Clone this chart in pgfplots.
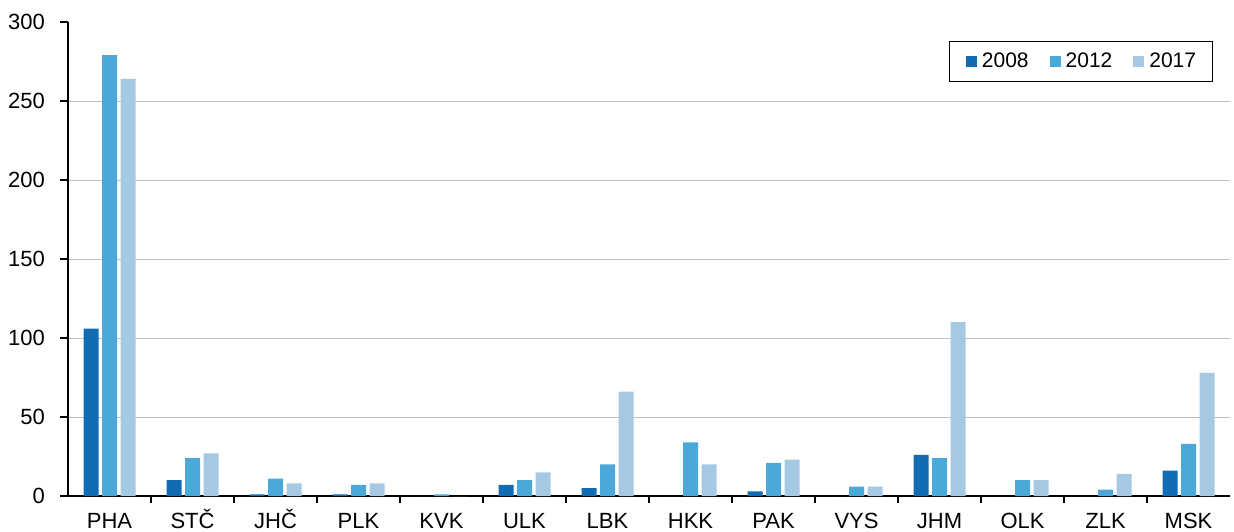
\documentclass[border=0pt]{standalone}
\usepackage{pgfplots}
\pgfplotsset{compat=1.18}
\usepackage{fontspec}
\setmainfont{Liberation Sans}
\definecolor{cA}{RGB}{19,108,178}
\definecolor{cB}{RGB}{77,168,218}
\definecolor{cC}{RGB}{165,201,227}
\pgfplotsset{sqleg/.style={legend image code/.code={\fill[##1] (0pt,-2.75pt) rectangle (5.5pt,2.75pt);}}}
\begin{document}
\begin{tikzpicture}
\begin{axis}[
  scale only axis, width=581pt, height=237pt,
  ybar=1.75pt, bar width=7.5pt,
  xmin=-0.5, xmax=13.5, ymin=0, ymax=300,
  axis lines=left, axis line style={-, line width=1.4pt},
  xtick={0,...,13},
  xticklabels={PHA,STČ,JHČ,PLK,KVK,ULK,LBK,HKK,PAK,VYS,JHM,OLK,ZLK,MSK},
  major x tick style={draw=none},
  minor xtick={0.5,1.5,...,12.5},
  minor tick length=3.5pt,
  minor x tick style={black, line width=0.8pt},
  ytick={0,50,...,250},
  extra y ticks={300}, extra y tick style={grid=none},
  major tick length=4pt,
  tick align=outside,
  ytick style={black, line width=0.6pt},
  ymajorgrids, grid style={gray!50, line width=0.5pt},
  tick label style={font=\fontsize{11}{13}\selectfont},
  /pgf/number format/assume math mode=true,
  xticklabel style={text height=8pt, text depth=0pt, yshift=-0.5pt},
  yticklabel style={xshift=-4pt},
  legend style={at={(0.985,0.96)}, anchor=north east, draw=black, line width=0.5pt,
    legend columns=3, font=\fontsize{10.5}{12}\selectfont,
    inner xsep=8pt, inner ysep=5.5pt,
    nodes={inner sep=0pt},
    /tikz/every odd column/.append style={column sep=2.5pt},
    /tikz/every even column/.append style={column sep=10.5pt}},
]
\addplot[fill=cA, draw=none, sqleg] coordinates {(0,106) (1,10) (2,1) (3,1) (4,0) (5,7) (6,5) (7,0) (8,3) (9,0) (10,26) (11,0) (12,0) (13,16)};
\addplot[fill=cB, draw=none, sqleg] coordinates {(0,279) (1,24) (2,11) (3,7) (4,1) (5,10) (6,20) (7,34) (8,21) (9,6) (10,24) (11,10) (12,4) (13,33)};
\addplot[fill=cC, draw=none, sqleg] coordinates {(0,264) (1,27) (2,8) (3,8) (4,0) (5,15) (6,66) (7,20) (8,23) (9,6) (10,110) (11,10) (12,14) (13,78)};
\legend{2008,2012,2017}
\coordinate (bl) at (rel axis cs:0,0);
\coordinate (tr) at (rel axis cs:1,1);
\end{axis}
\pgfresetboundingbox
\path ([xshift=-34pt,yshift=-17.5pt]bl) rectangle ([xshift=2pt,yshift=11pt]tr);
\end{tikzpicture}
\end{document}
